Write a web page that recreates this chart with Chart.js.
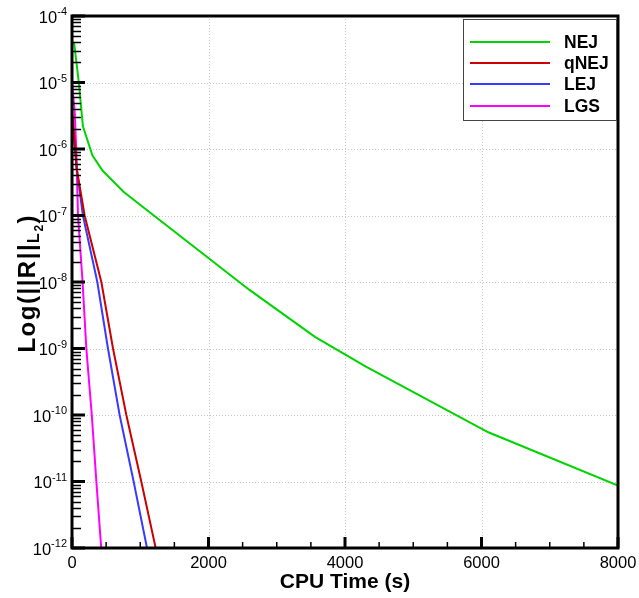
<!DOCTYPE html>
<html lang="en">
<head>
<meta charset="UTF-8">
<title>Residual vs CPU time</title>
<script src="https://cdn.jsdelivr.net/npm/chart.js"></script>
<style>
    html, body { margin: 0; padding: 0; background: #fff; }
    #wrap { width: 639px; height: 598px; position: relative; }
</style>
</head>
<body>
<div id="wrap"><canvas id="chart"></canvas></div>
<script>
    // values
    const seriesNames = ['NEJ', 'qNEJ', 'LEJ', 'LGS'];
    const seriesColors = ['#00d400', '#cc0000', '#3a3aff', '#ff00ff'];

    const nejTime = [30, 100, 160, 300, 450, 750, 1100, 1900, 2600, 3560, 4300, 6100, 8000];
    const nejRes = [4e-5, 1e-5, 2.2e-6, 8e-7, 4.7e-7, 2.3e-7, 1.2e-7, 2.75e-8, 7.6e-9, 1.5e-9, 5.4e-10, 5.5e-11, 8.7e-12];

    const qnejTime = [0, 70, 185, 430, 601, 796, 1015, 1226];
    const qnejRes = [4e-6, 5e-7, 1e-7, 1e-8, 1e-9, 1e-10, 1e-11, 1e-12];

    const lejTime = [0, 70, 160, 371, 527, 698, 903, 1099];
    const lejRes = [3e-6, 5e-7, 1e-7, 1e-8, 1e-9, 1e-10, 1e-11, 1e-12];

    const lgsTime = [0, 40, 62, 88, 155, 210, 290, 357, 428];
    const lgsRes = [1e-5, 3.5e-6, 1e-6, 1e-7, 1e-8, 1e-9, 1e-10, 1e-11, 1e-12];

    const xTicks = [0, 2000, 4000, 6000, 8000];
    const yExponents = [-4, -5, -6, -7, -8, -9, -10, -11, -12];

    const times = [nejTime, qnejTime, lejTime, lgsTime];
    const residuals = [nejRes, qnejRes, lejRes, lgsRes];

    const FONT = '"Liberation Sans", Arial, Helvetica, sans-serif';

    function toPoints(xs, ys) {
        return xs.map((x, i) => ({ x: x, y: ys[i] }));
    }

    function tick(ctx, x1, y1, x2, y2, w) {
        ctx.lineWidth = w;
        ctx.beginPath();
        ctx.moveTo(x1, y1);
        ctx.lineTo(x2, y2);
        ctx.stroke();
    }

    const axesPlugin = {
        id: 'tecplotAxes',
        beforeDatasetsDraw(chart) {
            const ctx = chart.ctx;
            const a = chart.chartArea;
            const xs = chart.scales.x, ys = chart.scales.y;
            ctx.save();
            ctx.strokeStyle = '#c8c8c8';
            ctx.setLineDash([1, 2]);
            xTicks.forEach(v => {
                const px = Math.round(xs.getPixelForValue(v)) + 0.5;
                tick(ctx, px, a.top, px, a.bottom, 1);
            });
            yExponents.forEach(e => {
                const py = Math.round(ys.getPixelForValue(Math.pow(10, e))) + 0.5;
                tick(ctx, a.left, py, a.right, py, 1);
            });
            ctx.restore();
        },
        afterDatasetsDraw(chart) {
            const ctx = chart.ctx;
            const a = chart.chartArea;
            const xs = chart.scales.x, ys = chart.scales.y;
            ctx.save();
            ctx.setLineDash([]);
            ctx.strokeStyle = '#000000';

            // y minor ticks (2..9 x 10^e)
            for (let e = -12; e < -4; e++) {
                for (let k = 2; k <= 9; k++) {
                    const pm = Math.round(ys.getPixelForValue(k * Math.pow(10, e))) + 0.5;
                    tick(ctx, a.left, pm, a.left + 9, pm, 1.5);
                }
            }
            // y major ticks
            yExponents.forEach(e => {
                const py = ys.getPixelForValue(Math.pow(10, e));
                tick(ctx, a.left, py, a.left + 13, py, 3);
            });

            // x ticks
            for (let v = 0; v <= 8000; v += 500) {
                const px = xs.getPixelForValue(v);
                const major = v % 2000 === 0;
                tick(ctx, px, a.bottom, px, a.bottom - (major ? 11 : 6), major ? 3 : 1.5);
            }

            // frame
            ctx.lineWidth = 3;
            ctx.strokeRect(a.left, a.top, a.right - a.left, a.bottom - a.top);

            // y tick labels 10^e
            ctx.fillStyle = '#000';
            yExponents.forEach(e => {
                const py = ys.getPixelForValue(Math.pow(10, e));
                const sup = String(e);
                ctx.font = '11px ' + FONT;
                const supW = ctx.measureText(sup).width;
                const right = a.left - 5;
                ctx.textAlign = 'left';
                ctx.textBaseline = 'middle';
                ctx.fillText(sup, right - supW, py - 4);
                ctx.font = '16.5px ' + FONT;
                ctx.textAlign = 'right';
                ctx.fillText('10', right - supW, py + 2);
            });

            // x tick labels
            ctx.font = '16.5px ' + FONT;
            ctx.textAlign = 'center';
            ctx.textBaseline = 'middle';
            xTicks.forEach(v => {
                ctx.fillText(String(v), xs.getPixelForValue(v), a.bottom + 15);
            });

            // x title
            ctx.font = 'bold 21px ' + FONT;
            ctx.fillText('CPU Time (s)', (a.left + a.right) / 2, a.bottom + 34);

            // y title: Log(||R||_{L_2}), drawn glyph by glyph with a little spacing
            ctx.save();
            ctx.translate(35, (a.top + a.bottom) / 2 + 2);
            ctx.rotate(-Math.PI / 2);
            ctx.textBaseline = 'alphabetic';
            ctx.textAlign = 'left';
            const mainF = 'bold 24px ' + FONT;
            const subF = 'bold 16px ' + FONT;
            const subsubF = 'bold 12px ' + FONT;
            const gap = 1.5;
            const glyphs = [];
            'Log(||R||'.split('').forEach(c => glyphs.push({ t: c, f: mainF, dy: 0 }));
            glyphs.push({ t: 'L', f: subF, dy: 4 });
            glyphs.push({ t: '2', f: subsubF, dy: 8 });
            glyphs.push({ t: ')', f: mainF, dy: 0 });
            let total = 0;
            glyphs.forEach(g => { ctx.font = g.f; g.w = ctx.measureText(g.t).width; total += g.w + gap; });
            total -= gap;
            let cx = -total / 2;
            glyphs.forEach(g => {
                ctx.font = g.f;
                ctx.fillText(g.t, cx, g.dy);
                cx += g.w + gap;
            });
            ctx.restore();

            // legend
            const lx = 463, ly = 19, lw = 153, lh = 101;
            ctx.fillStyle = '#fff';
            ctx.fillRect(lx, ly, lw, lh);
            ctx.lineWidth = 1;
            ctx.strokeStyle = '#444';
            ctx.strokeRect(lx + 0.5, ly + 0.5, lw, lh);
            const rows = [42, 63, 84, 106];
            ctx.font = 'bold 17.5px ' + FONT;
            ctx.textAlign = 'left';
            ctx.textBaseline = 'middle';
            seriesNames.forEach((name, i) => {
                ctx.strokeStyle = seriesColors[i];
                tick(ctx, 470, rows[i], 550, rows[i], 2);
                ctx.fillStyle = '#000';
                ctx.fillText(name, 564, rows[i] + 1);
            });
            ctx.restore();
        }
    };

    new Chart(document.getElementById('chart').getContext('2d'), {
        type: 'line',
        data: {
            datasets: seriesNames.map((name, i) => ({
                label: name,
                data: toPoints(times[i], residuals[i]),
                borderColor: seriesColors[i],
                backgroundColor: seriesColors[i],
                borderWidth: 2,
                pointRadius: 0,
                tension: 0,
                fill: false
            }))
        },
        options: {
            responsive: true,
            maintainAspectRatio: false,
            animation: false,
            layout: { padding: { left: 72, top: 16, right: 21, bottom: 50 } },
            plugins: { legend: { display: false }, tooltip: { enabled: false } },
            scales: {
                x: { type: 'linear', min: 0, max: 8000, display: false },
                y: { type: 'logarithmic', min: 1e-12, max: 1e-4, display: false }
            }
        },
        plugins: [axesPlugin]
    });
</script>
</body>
</html>
